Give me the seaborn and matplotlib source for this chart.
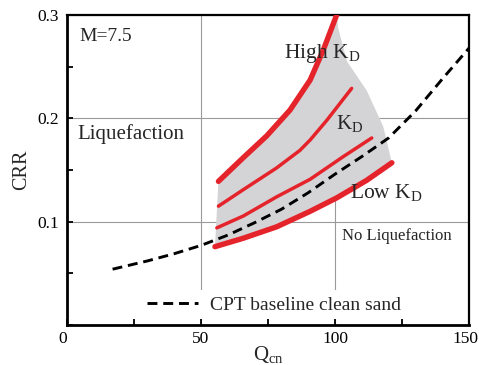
import matplotlib
matplotlib.use("Agg")
import matplotlib.pyplot as plt
import matplotlib.transforms as mtransforms
import seaborn as sns
import pandas as pd
from matplotlib.ticker import MultipleLocator

# ---- data ----
q_base = [17, 30, 40, 50, 60, 70, 80, 90, 100, 110, 120, 130, 140, 150]
crr_base = [0.054, 0.062, 0.069, 0.077, 0.087, 0.099, 0.112, 0.128, 0.146,
            0.163, 0.181, 0.207, 0.238, 0.268]

q_high = [56.5, 65.8, 74.5, 83.2, 90.7, 95.6, 100.6]
crr_high = [0.139, 0.162, 0.183, 0.208, 0.237, 0.266, 0.300]

q_mid = [56.5, 65.8, 78.2, 86.9, 90.7, 96.9, 106.2]
crr_mid = [0.115, 0.131, 0.152, 0.169, 0.179, 0.198, 0.229]

q_lmid = [55.9, 65.8, 78.2, 90.7, 103.1, 113.7]
crr_lmid = [0.094, 0.1055, 0.124, 0.141, 0.163, 0.181]

q_low = [55.2, 65.8, 78.2, 90.7, 100.6, 111.8, 121.2]
crr_low = [0.0758, 0.084, 0.095, 0.110, 0.123, 0.140, 0.157]

# right edge of the shaded band (from end of low curve up to the apex)
q_edge = [121.2, 118.0, 111.8, 104.5, 101.2]
crr_edge = [0.157, 0.192, 0.227, 0.255, 0.287]

x_ticks = [0, 50, 100, 150]
y_ticks = [0.1, 0.2, 0.3]
y_tick_labels = ["0.1", "0.2", "0.3"]

sns.set_theme(style="white")
plt.rcParams["font.family"] = ["Liberation Serif", "DejaVu Serif"]
plt.rcParams["mathtext.fontset"] = "custom"
plt.rcParams["mathtext.rm"] = "Liberation Serif"
plt.rcParams["mathtext.it"] = "Liberation Serif:italic"

fig = plt.figure(figsize=(4.79, 3.65), dpi=100)
ax = fig.add_axes([0.1399, 0.1096, 0.8393, 0.8493])

RED = "#e5232b"

# shaded band
poly_q = q_low + q_edge[1:] + q_high[::-1]
poly_c = crr_low + crr_edge[1:] + crr_high[::-1]
ax.fill(poly_q, poly_c, color="#d4d4d6", lw=0, zorder=1)

# grid
ax.grid(True, color="#9a9a9a", lw=0.8, zorder=0)
ax.set_axisbelow(True)

df_base = pd.DataFrame({"Q": q_base, "CRR": crr_base})
sns.lineplot(data=df_base, x="Q", y="CRR", ax=ax, color="black", lw=2.1,
             label="CPT baseline clean sand", zorder=4)
ax.lines[-1].set_dashes((3.4, 2.0))

for qq, cc, lw in [(q_high, crr_high, 3.9), (q_mid, crr_mid, 2.5),
                   (q_lmid, crr_lmid, 2.5), (q_low, crr_low, 3.9)]:
    sns.lineplot(x=qq, y=cc, ax=ax, color=RED, lw=lw, zorder=3,
                 solid_capstyle="round", solid_joinstyle="round",
                 legend=False)

ax.set_xlim(0, 150)
ax.set_ylim(0, 0.3)
ax.set_xticks(x_ticks)
ax.set_xticklabels([str(v) for v in x_ticks])
ax.set_yticks(y_ticks)
ax.set_yticklabels(y_tick_labels)
ax.xaxis.set_minor_locator(MultipleLocator(25))
ax.yaxis.set_minor_locator(MultipleLocator(0.05))
ax.tick_params(which="both", direction="in", length=4, width=1.3,
               colors="black", labelsize=12.5)
ax.tick_params(axis="x", pad=4)
ax.tick_params(axis="y", pad=6)
ax.tick_params(which="both", top=False, right=False, left=True, bottom=True)
xtl = ax.get_xticklabels()
xtl[0].set_ha("right")
xtl[-1].set_transform(xtl[-1].get_transform() +
                      mtransforms.ScaledTranslation(-4 / 100, 0, fig.dpi_scale_trans))

for s in ax.spines.values():
    s.set_color("black")
    s.set_linewidth(1.6)
ax.spines["left"].set_linewidth(2.0)
ax.spines["bottom"].set_linewidth(2.0)

ax.set_xlabel(r"Q$_{\rm cn}$", fontsize=15)
ax.xaxis.label.set_va("center")
ax.xaxis.set_label_coords(0.502, -0.095)
ax.set_ylabel("CRR", fontsize=14.5, labelpad=4)

ax.text(4.5, 0.279, "M=7.5", fontsize=14, va="center", ha="left")
ax.text(3.8, 0.185, "Liquefaction", fontsize=15, va="center", ha="left")
ax.text(81, 0.263, r"High K$_{\rm D}$", fontsize=15.5, va="center", ha="left")
ax.text(100.5, 0.195, r"K$_{\rm D}$", fontsize=15, va="center", ha="left")
ax.text(105.5, 0.128, r"Low K$_{\rm D}$", fontsize=15.5, va="center", ha="left")
ax.text(102.5, 0.086, "No Liquefaction", fontsize=12, va="center", ha="left")

leg = ax.legend(loc="center", bbox_to_anchor=(0.515, 0.065), fontsize=14,
                frameon=True, framealpha=1, facecolor="white",
                edgecolor="none", handlelength=2.6, borderpad=0.3,
                handletextpad=0.6)

fig.savefig("out.png", dpi=100)
